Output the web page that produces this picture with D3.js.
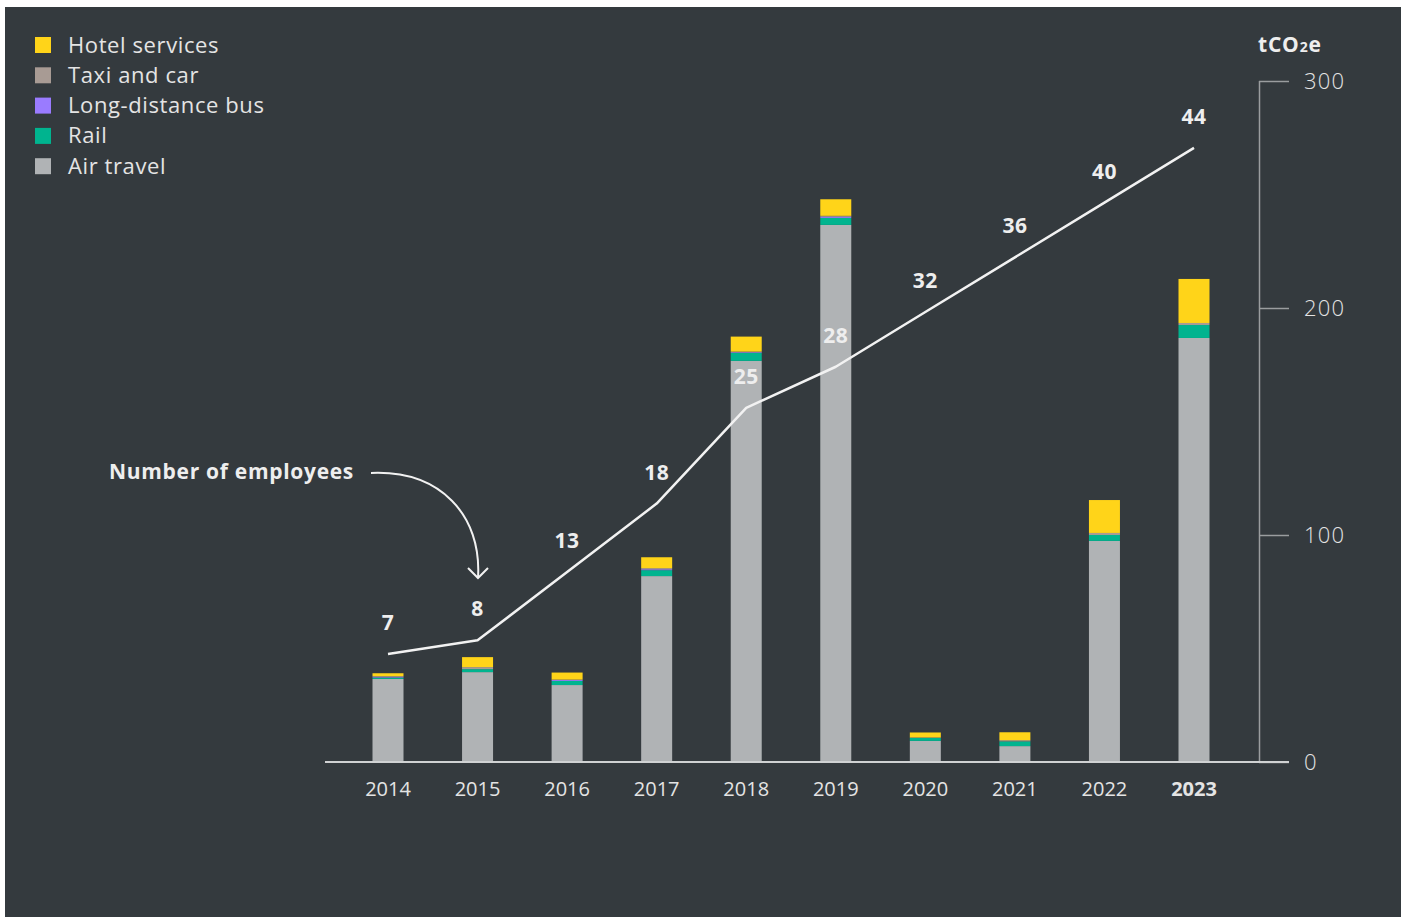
<!DOCTYPE html>
<html><head><meta charset="utf-8">
<script src="https://cdn.jsdelivr.net/npm/d3@7/dist/d3.min.js"></script>
<style>
html,body{margin:0;padding:0;background:#ffffff;}
svg{display:block;}
text{font-family:"Open Sans","Noto Sans",sans-serif;}
</style></head>
<body>
<svg id="chart" width="1407" height="919"></svg>
<script>
const years = ["2014","2015","2016","2017","2018","2019","2020","2021","2022","2023"];
const airTravel = [36.6, 39.6, 33.9, 81.9, 176.7, 236.6, 9.3, 7.0, 97.4, 186.8];
const rail      = [0.6, 1.3, 1.8, 2.6, 3.5, 3.1, 1.3, 2.1, 2.6, 5.7];
const bus       = [0.3, 0.0, 0.4, 0.4, 0.3, 0.5, 0.0, 0.0, 0.0, 0.0];
const taxi      = [0.3, 0.9, 0.2, 0.5, 0.3, 0.4, 0.2, 0.5, 0.9, 0.9];
const hotel     = [1.3, 4.4, 3.1, 4.8, 6.6, 7.3, 2.2, 3.5, 14.5, 19.4];
const employees = [7, 8, 13, 18, 25, 28, 32, 36, 40, 44];
const yTicks = [0, 100, 200, 300];

const seriesNames = ["Air travel","Rail","Long-distance bus","Taxi and car","Hotel services"];
const seriesVals = [airTravel, rail, bus, taxi, hotel];
const colors = {"Hotel services":"#ffd419","Taxi and car":"#a89b94","Long-distance bus":"#9a7bff","Rail":"#00b48f","Air travel":"#b0b3b5"};
const legendOrder = ["Hotel services","Taxi and car","Long-distance bus","Rail","Air travel"];

const svg = d3.select("#chart");
svg.append("rect").attr("x",5).attr("y",7).attr("width",1396).attr("height",910).attr("fill","#343a3e");

const x = d3.scalePoint().domain(years).range([388, 1194]);
const y = d3.scaleLinear().domain([0, 300]).range([762, 81]);
const yEmp = d3.scaleLinear().domain([0, 50]).range([749.8, 65.8]);
const barW = 31;

const table = years.map((yr, i) => {
  const o = {year: yr};
  seriesNames.forEach((s, k) => o[s] = seriesVals[k][i]);
  return o;
});
const stack = d3.stack().keys(seriesNames)(table);

svg.append("g").selectAll("g").data(stack).join("g")
  .attr("fill", d => colors[d.key])
  .selectAll("rect").data(d => d).join("rect")
  .attr("x", d => x(d.data.year) - barW/2)
  .attr("width", barW)
  .attr("y", d => y(d[1]))
  .attr("height", d => Math.max(0, y(d[0]) - y(d[1])));

const axis = d3.axisRight(y).tickValues(yTicks).tickSize(30).tickPadding(15).tickFormat(d3.format("d"));
const ag = svg.append("g").attr("transform","translate(1259,0)").call(axis);
ag.select(".domain").attr("stroke","#9a9d9f").attr("stroke-width",1.5).attr("d","M0.5,81V762");
ag.selectAll(".tick line").attr("stroke","#9a9d9f").attr("stroke-width",1.5);
ag.selectAll(".tick text").attr("fill","#e4e4e4").attr("font-size",22).attr("font-weight",300)
  .attr("letter-spacing",1.2).attr("font-family","'Open Sans',sans-serif");

svg.append("line").attr("x1",325).attr("x2",1289).attr("y1",y(0)).attr("y2",y(0))
  .attr("stroke","#d0d2d3").attr("stroke-width",2);

const unit = svg.append("text").attr("x",1258).attr("y",52).attr("fill","#eeeeee")
  .attr("font-size",21).attr("font-weight",700).attr("letter-spacing",0.8);
unit.append("tspan").text("tCO");
unit.append("tspan").text("2").attr("font-size",14);
unit.append("tspan").text("e");

svg.append("g").selectAll("text").data(years).join("text")
  .attr("x", d => x(d)).attr("y", 796).attr("text-anchor","middle")
  .attr("fill","#e4e4e4").attr("font-size",20)
  .attr("font-weight", d => d === "2023" ? 700 : 400)
  .text(d => d);

const line = d3.line().x((d,i) => x(years[i])).y(d => yEmp(d));
svg.append("path").datum(employees).attr("d", line)
  .attr("fill","none").attr("stroke","#f2f2f2").attr("stroke-width",2.5).attr("stroke-linejoin","round");

svg.append("g").selectAll("text").data(employees).join("text")
  .attr("x", (d,i) => x(years[i])).attr("y", d => yEmp(d) - 24)
  .attr("text-anchor","middle").attr("fill","#eeeeee").attr("font-size",21).attr("font-weight",700)
  .attr("letter-spacing",0.5)
  .text(d => d);

svg.append("text").attr("x",109).attr("y",479).attr("fill","#eeeeee")
  .attr("font-size",21).attr("font-weight",700).attr("letter-spacing",0.7).text("Number of employees");
svg.append("path").attr("d","M371,473 C440,470 482,515 478,578")
  .attr("fill","none").attr("stroke","#f2f2f2").attr("stroke-width",2);
svg.append("path").attr("d","M468,568 L478,578 L488,568")
  .attr("fill","none").attr("stroke","#f2f2f2").attr("stroke-width",2);

const lg = svg.append("g").selectAll("g").data(legendOrder).join("g")
  .attr("transform",(d,i) => `translate(35,${37 + i*30.3})`);
lg.append("rect").attr("width",16).attr("height",16).attr("fill", d => colors[d]);
lg.append("text").attr("x",33).attr("y",15.5).attr("fill","#e4e4e4").attr("font-size",22)
  .attr("letter-spacing",0.6).text(d => d);
</script>
</body></html>
